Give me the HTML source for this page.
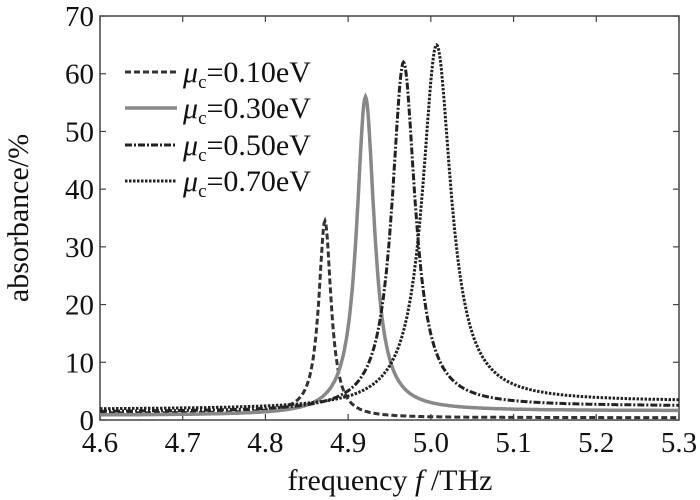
<!DOCTYPE html>
<html><head><style>
body{margin:0;background:#fff}
svg{display:block;font-family:"Liberation Serif",serif}
</style></head><body>
<svg id="s" width="700" height="500" viewBox="0 0 700 500">
<rect x="100" y="16" width="579" height="404" fill="none" stroke="#444" stroke-width="1.5"/>
<g id="ticks" stroke="#444" stroke-width="1.2"></g>
<g font-size="29" fill="#111" text-anchor="end" id="yl"></g>
<g font-size="29" fill="#111" text-anchor="middle" id="xl"></g>
<g id="curves" fill="none"></g>
<text x="28" y="218" font-size="30" fill="#111" text-anchor="middle" transform="rotate(-90 28 218)">absorbance/%</text>
<text x="390" y="490" font-size="30" fill="#111" text-anchor="middle">frequency <tspan font-style="italic">f</tspan> /THz</text>
<g font-size="30" fill="#111">
<line x1="125" y1="72" x2="177" y2="72" stroke="#333" stroke-width="3" stroke-dasharray="6,3"/>
<text x="183" y="82"><tspan font-style="italic">μ</tspan><tspan font-size="19" dy="6">c</tspan><tspan dy="-6">=0.10eV</tspan></text>
<line x1="125" y1="108" x2="177" y2="108" stroke="#888" stroke-width="3.5"/>
<text x="183" y="118"><tspan font-style="italic">μ</tspan><tspan font-size="19" dy="6">c</tspan><tspan dy="-6">=0.30eV</tspan></text>
<line x1="125" y1="145" x2="177" y2="145" stroke="#222" stroke-width="3" stroke-dasharray="7,2,2,2"/>
<text x="183" y="155"><tspan font-style="italic">μ</tspan><tspan font-size="19" dy="6">c</tspan><tspan dy="-6">=0.50eV</tspan></text>
<line x1="125" y1="181" x2="177" y2="181" stroke="#222" stroke-width="3" stroke-dasharray="2.5,1.5"/>
<text x="183" y="191"><tspan font-style="italic">μ</tspan><tspan font-size="19" dy="6">c</tspan><tspan dy="-6">=0.70eV</tspan></text>
</g>
</svg>
<script>
var X=function(f){return 100+(f-4.6)*827.1},Y=function(v){return 420-v*5.771};
var t=document.getElementById('ticks'),yl=document.getElementById('yl'),xl=document.getElementById('xl'),ns='http://www.w3.org/2000/svg';
function el(p,n,a,txt){var e=document.createElementNS(ns,n);for(var k in a)e.setAttribute(k,a[k]);if(txt)e.textContent=txt;p.appendChild(e);}
for(var v=0;v<=70;v+=10){var y=Y(v);el(t,'line',{x1:100,y1:y,x2:106,y2:y});el(t,'line',{x1:679,y1:y,x2:673,y2:y});el(yl,'text',{x:94,y:y+10},String(v));}
for(var i=0;i<=7;i++){var f=4.6+i*0.1,x=X(f);el(t,'line',{x1:x,y1:420,x2:x,y2:414});el(t,'line',{x1:x,y1:16,x2:x,y2:22});el(xl,'text',{x:x,y:452},f.toFixed(1));}
var C=[[4.872,34.5,0.009,0.4,1.2,'#333',3,'6,3'],[4.921,56,0.013,1.6,0.8,'#888',3.5,''],[4.967,62,0.017,2.4,1.4,'#222',3,'7,2,2,2'],[5.007,65,0.021,3.2,1.8,'#222',3,'2.5,1.5']];
var g=document.getElementById('curves');
C.forEach(function(c){var d='';for(var f=4.6;f<=5.3001;f+=0.001){var u=(f-c[0])/c[2];var b=f<c[0]?c[4]:c[3];var v=b+(c[1]-b)/(1+u*u);d+=(d?'L':'M')+X(f).toFixed(1)+','+Y(v).toFixed(1);}
el(g,'path',{d:d,stroke:c[5],'stroke-width':c[6],'stroke-dasharray':c[7]});});
</script>
</body></html>
